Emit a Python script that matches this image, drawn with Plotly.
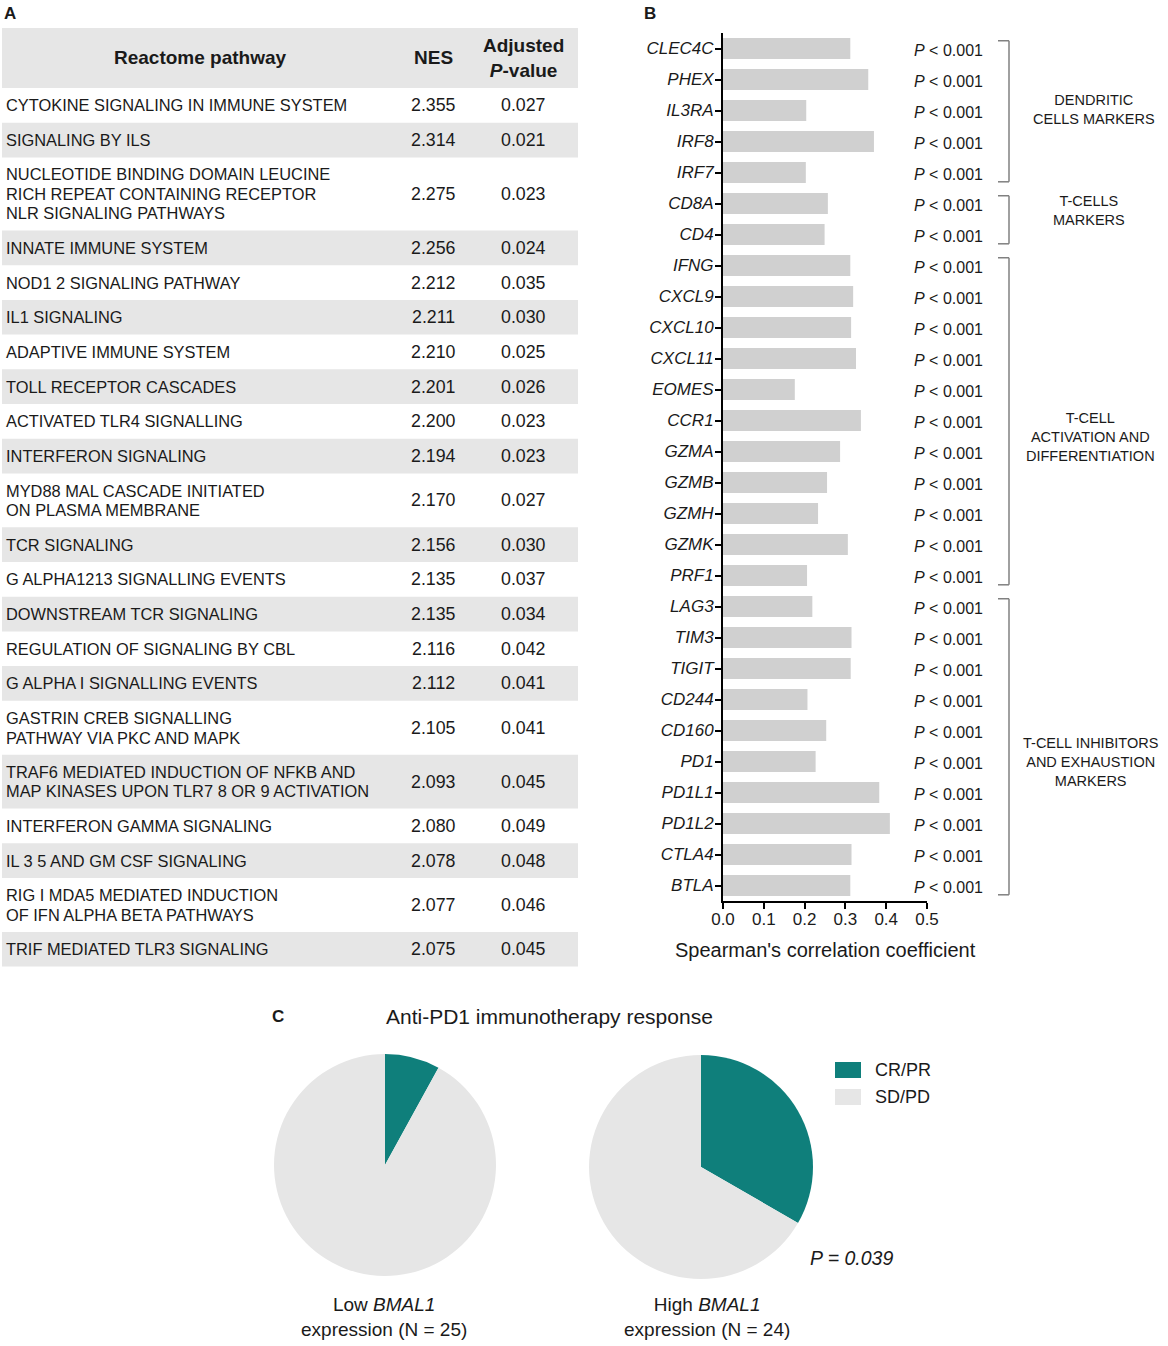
import plotly.graph_objects as go

FONT = "Liberation Sans, Arial, sans-serif"
TXT = "#1a1a1a"
W, H = 1168, 1346

# ---------------- Panel A data ----------------
pathways = [
    "CYTOKINE SIGNALING IN IMMUNE SYSTEM",
    "SIGNALING BY ILS",
    "NUCLEOTIDE BINDING DOMAIN LEUCINE<br>RICH REPEAT CONTAINING RECEPTOR<br>NLR SIGNALING PATHWAYS",
    "INNATE IMMUNE SYSTEM",
    "NOD1 2 SIGNALING PATHWAY",
    "IL1 SIGNALING",
    "ADAPTIVE IMMUNE SYSTEM",
    "TOLL RECEPTOR CASCADES",
    "ACTIVATED TLR4 SIGNALLING",
    "INTERFERON SIGNALING",
    "MYD88 MAL CASCADE INITIATED<br>ON PLASMA MEMBRANE",
    "TCR SIGNALING",
    "G ALPHA1213 SIGNALLING EVENTS",
    "DOWNSTREAM TCR SIGNALING",
    "REGULATION OF SIGNALING BY CBL",
    "G ALPHA I SIGNALLING EVENTS",
    "GASTRIN CREB SIGNALLING<br>PATHWAY VIA PKC AND MAPK",
    "TRAF6 MEDIATED INDUCTION OF NFKB AND<br>MAP KINASES UPON TLR7 8 OR 9 ACTIVATION",
    "INTERFERON GAMMA SIGNALING",
    "IL 3 5 AND GM CSF SIGNALING",
    "RIG I MDA5 MEDIATED INDUCTION<br>OF IFN ALPHA BETA PATHWAYS",
    "TRIF MEDIATED TLR3 SIGNALING",
]
nes = ["2.355", "2.314", "2.275", "2.256", "2.212", "2.211", "2.210", "2.201",
       "2.200", "2.194", "2.170", "2.156", "2.135", "2.135", "2.116", "2.112",
       "2.105", "2.093", "2.080", "2.078", "2.077", "2.075"]
padj = ["0.027", "0.021", "0.023", "0.024", "0.035", "0.030", "0.025", "0.026",
        "0.023", "0.023", "0.027", "0.030", "0.037", "0.034", "0.042", "0.041",
        "0.041", "0.045", "0.049", "0.048", "0.046", "0.045"]
table_headers = ["<b>Reactome pathway</b>", "<b>NES</b>", "<b>Adjusted<br><i>P</i>-value</b>"]

# ---------------- Panel B data ----------------
genes = ["CLEC4C", "PHEX", "IL3RA", "IRF8", "IRF7", "CD8A", "CD4", "IFNG",
         "CXCL9", "CXCL10", "CXCL11", "EOMES", "CCR1", "GZMA", "GZMB", "GZMH",
         "GZMK", "PRF1", "LAG3", "TIM3", "TIGIT", "CD244", "CD160", "PD1",
         "PD1L1", "PD1L2", "CTLA4", "BTLA"]
rho = [0.312, 0.356, 0.204, 0.370, 0.203, 0.257, 0.249, 0.312,
       0.319, 0.314, 0.326, 0.176, 0.338, 0.287, 0.255, 0.233,
       0.306, 0.206, 0.219, 0.315, 0.313, 0.207, 0.253, 0.227,
       0.383, 0.409, 0.315, 0.312]
pval_text = ["< 0.001"] * len(genes)
groups = [
    ("DENDRITIC<br>CELLS MARKERS", 0, 4),
    ("T-CELLS<br>MARKERS", 5, 6),
    ("T-CELL<br>ACTIVATION AND<br>DIFFERENTIATION", 7, 17),
    ("T-CELL INHIBITORS<br>AND EXHAUSTION<br>MARKERS", 18, 27),
]
group_label_pos = [(1094, 109), (1089, 210), (1090, 437), (1090, 762)]

# ---------------- Panel C data ----------------
pie_labels = ["CR/PR", "SD/PD"]
pie_colors = ["#0f7f7b", "#e6e6e6"]
low_counts = [2, 23]
high_counts = [8, 16]


def px(x):
    return x / W


def py(y):
    return 1 - y / H


shapes = []
annotations = []


def text(x, y, s, size=16, xanchor="center", yanchor="middle", align="center", color=TXT):
    annotations.append(dict(
        x=px(x), y=py(y), xref="paper", yref="paper", text=s, showarrow=False,
        xanchor=xanchor, yanchor=yanchor, align=align,
        font=dict(family=FONT, size=size, color=color)))


GREY = "#e6e6e6"
# ---------------- Table (panel A) ----------------
tx0, tx1 = 2, 578
top = 28
head_h = 60
LINE = 19.5
shapes.append(dict(type="rect", xref="paper", yref="paper", x0=px(tx0), x1=px(tx1),
                   y0=py(top + head_h), y1=py(top), fillcolor=GREY, line=dict(width=0), layer="below"))
hy = top + head_h / 2
text(200, hy, table_headers[0], size=19)
text(433, hy, table_headers[1], size=19)
text(523, hy, table_headers[2], size=19)

y = top + head_h
for i, (name, n, p) in enumerate(zip(pathways, nes, padj)):
    lines = name.split("<br>")
    nl = len(lines)
    h = 15.5 + 19.2 * nl
    if i % 2 == 1:
        shapes.append(dict(type="rect", xref="paper", yref="paper", x0=px(tx0), x1=px(tx1),
                           y0=py(y + h), y1=py(y), fillcolor=GREY, line=dict(width=0), layer="below"))
    cy = y + h / 2
    for j, ln in enumerate(lines):
        text(4, cy + (j - (nl - 1) / 2) * LINE, ln, size=16.4, xanchor="left", align="left")
    text(433, cy, n, size=17.8)
    text(523, cy, p, size=17.8)
    y += h

# ---------------- Panel letters ----------------
text(10, 14, "<b>A</b>", size=17)
text(650, 14, "<b>B</b>", size=17)
text(278, 1016, "<b>C</b>", size=17)

# ---------------- Panel B ----------------
fig = go.Figure()
fig.add_trace(go.Bar(x=rho, y=genes, orientation="h", marker=dict(color="#d0d0d0", line=dict(width=0)),
                     xaxis="x", yaxis="y", showlegend=False, hoverinfo="x+y"))

for i, (g, t) in enumerate(zip(genes, pval_text)):
    annotations.append(dict(x=px(912), y=i + 0.06, xref="paper", yref="y", text="<i>P</i> " + t,
                            showarrow=False, xanchor="left", yanchor="middle",
                            font=dict(family=FONT, size=16, color=TXT)))

BR = "#808080"
bx = 1009
for (label, s, e), (lx, ly) in zip(groups, group_label_pos):
    y0, y1 = s - 0.25, e + 0.3
    shapes.append(dict(type="line", xref="paper", yref="y", x0=px(bx), x1=px(bx), y0=y0, y1=y1,
                       line=dict(color=BR, width=1.5)))
    for yy in (y0, y1):
        shapes.append(dict(type="line", xref="paper", yref="y", x0=px(bx - 11), x1=px(bx), y0=yy, y1=yy,
                           line=dict(color=BR, width=1.5)))
    text(lx, ly, label, size=14.5)

text(825, 950, "Spearman's correlation coefficient", size=20)

# ---------------- Panel C ----------------
text(549, 1016, "Anti-PD1 immunotherapy response", size=21)
fig.add_trace(go.Pie(values=low_counts, labels=pie_labels, marker=dict(colors=pie_colors, line=dict(width=0)),
                     domain=dict(x=[px(274), px(496)], y=[py(1276), py(1054)]),
                     sort=False, direction="clockwise", rotation=0, textinfo="none",
                     hoverinfo="label+value", showlegend=False))
fig.add_trace(go.Pie(values=high_counts, labels=pie_labels, marker=dict(colors=pie_colors, line=dict(width=0)),
                     domain=dict(x=[px(589), px(813)], y=[py(1279), py(1055)]),
                     sort=False, direction="clockwise", rotation=0, textinfo="none",
                     hoverinfo="label+value", showlegend=False))
# legend (drawn manually to match square swatches)
for k, (lab, col) in enumerate(zip(pie_labels, pie_colors)):
    cy = 1070 + 27 * k
    shapes.append(dict(type="rect", xref="paper", yref="paper", x0=px(835), x1=px(861),
                       y0=py(cy + 8), y1=py(cy - 8), fillcolor=col, line=dict(width=0)))
    text(873, cy, lab, size=18, xanchor="left")

text(384, 1317, "Low <i>BMAL1</i><br>expression (N = 25)", size=19)
text(707, 1317, "High <i>BMAL1</i><br>expression (N = 24)", size=19)
text(851, 1258, "<i>P = 0.039</i>", size=19.5)

fig.update_layout(
    width=W, height=H, margin=dict(l=0, r=0, t=0, b=0, pad=0, autoexpand=False),
    paper_bgcolor="white", plot_bgcolor="white",
    font=dict(family=FONT, color=TXT),
    bargap=0.33, showlegend=False,
    xaxis=dict(domain=[px(723), px(927)], range=[0, 0.5], dtick=0.1, tickformat=".1f",
               showline=True, linewidth=2, linecolor="black", ticks="outside", ticklen=6,
               tickwidth=2, tickcolor="black", tickfont=dict(size=17, family=FONT, color=TXT),
               showgrid=False, zeroline=False, anchor="y", fixedrange=True, automargin=False,
               ticklabelstandoff=-4),
    yaxis=dict(domain=[py(901), py(33)], autorange="reversed", showline=True, linewidth=2,
               linecolor="black", ticks="outside", ticklen=6, tickwidth=1.5, tickcolor="black",
               tickvals=genes, ticktext=["<i>%s</i>" % g for g in genes],
               tickfont=dict(size=17, family=FONT, color=TXT), showgrid=False, zeroline=False,
               anchor="x", ticklabelstandoff=-2, automargin=False),
    shapes=shapes, annotations=annotations,
)

fig.write_html("out.html", config={"displayModeBar": False},
               post_script="document.body.style.margin='0px';document.body.style.padding='0px';")
